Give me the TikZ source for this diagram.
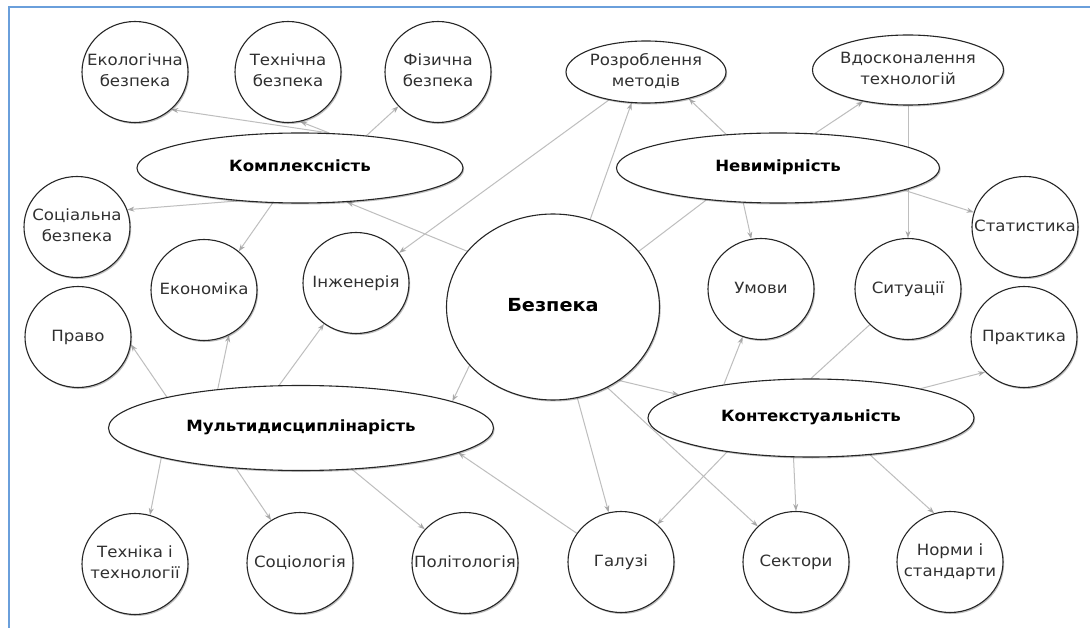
\documentclass[tikz,border=0pt]{standalone}
\usepackage{fontspec}
\setmainfont{DejaVu Sans}[FakeStretch=1.07]
\usetikzlibrary{shapes.geometric,arrows.meta,shadows,backgrounds}
\definecolor{edgegray}{HTML}{BEBEBE}
\definecolor{headgray}{HTML}{A8A8A8}
\definecolor{framblue}{HTML}{6A9FDB}
\definecolor{txtgray}{HTML}{303030}
\newcommand{\lbl}[1]{\makebox[0pt]{\begin{tabular}{@{}c@{}}#1\end{tabular}}}
\begin{document}
\begin{tikzpicture}[x=1pt,y=-1pt,
  bub/.style={ellipse, draw=black!85, line width=1.1pt, fill=white, inner sep=0pt,
    text=txtgray, font=\fontsize{15.5}{20.5}\selectfont,
    drop shadow={shadow xshift=1.2pt, shadow yshift=-1.5pt, opacity=0.25, fill=black}},
  small/.style={bub, minimum width=106pt, minimum height=101pt},
  cat/.style={bub, font=\fontsize{15.5}{18}\selectfont\bfseries, text=black},
  con/.style={draw=edgegray, line width=1pt, -{Stealth[length=7pt,width=5pt,color=headgray]}},
  lin/.style={draw=edgegray, line width=1pt}]
\useasboundingbox (0,0) rectangle (1090,628);

% top row
\node[small] (eko)  at (135,72) {\lbl{Екологічна\\безпека}};
\node[small] (tech) at (288,72) {\lbl{Технічна\\безпека}};
\node[small] (fiz)  at (438,72) {\lbl{Фізична\\безпека}};
\node[bub, minimum width=160pt, minimum height=62pt] (rozr) at (646,72) {\lbl{Розроблення\\методів}};
\node[bub, minimum width=191pt, minimum height=70pt] (vdos) at (908,70) {\lbl{Вдосконалення\\технологій}};

% categories
\node[cat, minimum width=326pt, minimum height=70pt] (komp) at (300,168) {\lbl{Комплексність}};
\node[cat, minimum width=323pt, minimum height=70pt] (nev)  at (778,168) {\lbl{Невимірність}};
\node[cat, minimum width=385pt, minimum height=85pt] (multi) at (301,428) {\lbl{Мультидисциплінарість}};
\node[cat, minimum width=326pt, minimum height=78pt] (kont) at (811,418) {\lbl{Контекстуальність}};

% centre
\node[bub, minimum width=213pt, minimum height=186pt, text=black,
      font=\fontsize{18}{22}\selectfont\bfseries] (bez) at (553,307) {\lbl{Безпека}};

% middle circles
\node[small] (soc)   at (77,227)   {\lbl{Соціальна\\безпека}};
\node[small] (stat)  at (1025,227) {\lbl{Статистика}};
\node[small] (ekon)  at (204,290)  {\lbl{Економіка}};
\node[small] (inzh)  at (356,283)  {\lbl{Інженерія}};
\node[small] (umovy) at (761,289)  {\lbl{Умови}};
\node[small] (sytu)  at (908,289)  {\lbl{Ситуації}};
\node[small] (pravo) at (78,337)   {\lbl{Право}};
\node[small] (prakt) at (1024,337) {\lbl{Практика}};

% bottom row
\node[small] (tekh)   at (135,564) {\lbl{Техніка і\\технології}};
\node[small] (sotsio) at (300,563) {\lbl{Соціологія}};
\node[small] (polit)  at (465,563) {\lbl{Політологія}};
\node[small] (haluz)  at (621,562) {\lbl{Галузі}};
\node[small] (sekt)   at (796,562) {\lbl{Сектори}};
\node[small] (norm)   at (950,562) {\lbl{Норми і\\стандарти}};

\begin{pgfonlayer}{background}
\fill[white] (0,0) rectangle (1090,628);
\draw[framblue, line width=1.5pt] (9,628) -- (9,7) -- (1090,7);
\draw[con] (komp.50) -- (eko.-46);
\draw[con] (komp.50) -- (tech.-76);
\draw[con] (komp.26) -- (fiz.-139);
\draw[con] (komp.208) -- (soc.19);
\draw[con] (komp.232) -- (ekon.48);
\draw[con] (bez.147) -- (komp.-36);
\draw[con] (rozr.217) -- (inzh.35);
\draw[con] (bez.67) -- (rozr.-115);
\draw[con] (nev.147) -- (rozr.-32);
\draw[con] (nev.43) -- (vdos.-145);
\draw[con] (vdos.south) -- (sytu.north);
\draw[con] (nev.-10) -- (stat.164);
\draw[con] (nev.225) -- (umovy.101);
\draw[lin] (nev.204) -- (bez.33);
\draw[con] (kont.159) -- (umovy.-111);
\draw[lin] (sytu.-137) -- (kont.90);
\draw[con] (kont.15) -- (prakt.-138);
\draw[con] (kont.202) -- (haluz.46);
\draw[con] (kont.246) -- (sekt.north);
\draw[con] (kont.-32) -- (norm.108);
\draw[con] (bez.-48) -- (kont.170);
\draw[con] (bez.-75) -- (haluz.104);
\draw[con] (bez.-56) -- (sekt.137);
\draw[con] (haluz.147) -- (multi.-9);
\draw[con] (multi.167) -- (pravo.-8);
\draw[con] (multi.155) -- (ekon.-61);
\draw[con] (multi.117) -- (inzh.-128);
\draw[con] (bez.-145) -- (multi.10);
\draw[con] (multi.192) -- (tekh.73);
\draw[con] (multi.212) -- (sotsio.124);
\draw[con] (multi.-39) -- (polit.140);
\end{pgfonlayer}
\end{tikzpicture}
\end{document}
